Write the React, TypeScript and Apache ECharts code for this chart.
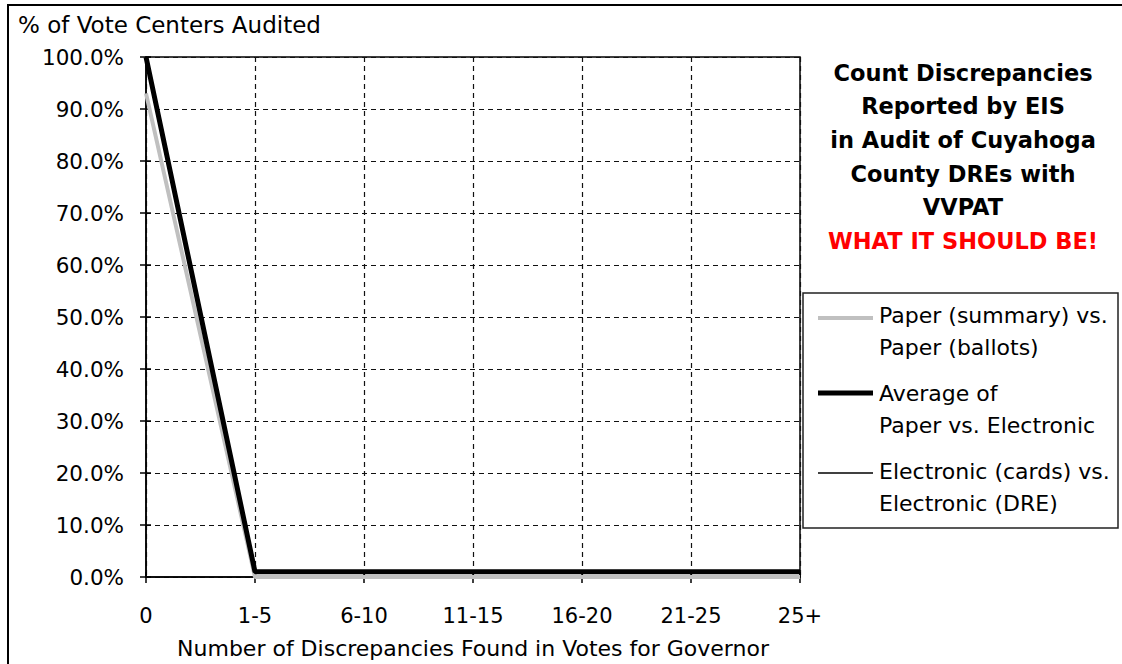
import React, { useEffect, useRef } from "react";
import * as echarts from "echarts";

const categories = ["0", "1-5", "6-10", "11-15", "16-20", "21-25", "25+"];
const paperVsPaper = [93, 0, 0, 0, 0, 0, 0];
const averagePaperVsElectronic = [100, 1, 1, 1, 1, 1, 1];
const electronicVsElectronic = [100, 1, 1, 1, 1, 1, 1];
const seriesNames = [
  "Paper (summary) vs.\nPaper (ballots)",
  "Average of\nPaper vs. Electronic",
  "Electronic (cards) vs.\nElectronic (DRE)",
];
const titleLines = [
  "Count Discrepancies",
  "Reported by EIS",
  "in Audit of Cuyahoga",
  "County DREs with",
  "VVPAT",
];
const titleRed = "WHAT IT SHOULD BE!";
const yAxisTitle = "% of Vote Centers Audited";
const xAxisTitle = "Number of Discrepancies Found in Votes for Governor";

const FONT = "DejaVu Sans";

export default function App() {
  const ref = useRef<HTMLDivElement>(null);
  useEffect(() => {
    if (!ref.current) return;
    const chart = echarts.init(ref.current, null, { renderer: "svg" });
    const styles = [
      { color: "#c0c0c0", width: 4 },
      { color: "#000000", width: 5 },
      { color: "#000000", width: 1.5 },
    ];
    const data = [paperVsPaper, averagePaperVsElectronic, electronicVsElectronic];
    const legendY = [318, 393, 473];
    const legendTextY = [299, 377, 455];
    const legendItems: any[] = [];
    seriesNames.forEach((n, i) => {
      legendItems.push({
        type: "line",
        shape: { x1: 818, y1: legendY[i], x2: 873, y2: legendY[i] },
        style: { stroke: styles[i].color, lineWidth: styles[i].width },
      });
      legendItems.push({
        type: "text",
        x: 879,
        y: legendTextY[i],
        style: {
          text: n,
          fontFamily: FONT,
          fontSize: 22,
          lineHeight: 32,
          fill: "#000",
          align: "left",
          verticalAlign: "top",
        },
      });
    });

    chart.setOption({
      animation: false,
      backgroundColor: "#fff",
      grid: {
        left: 146,
        right: 322,
        top: 57,
        bottom: 86,
        show: true,
        borderColor: "#000",
        borderWidth: 1.5,
        backgroundColor: "transparent",
      },
      xAxis: [
        {
          type: "category",
          data: categories,
          boundaryGap: false,
          name: xAxisTitle,
          nameLocation: "middle",
          nameGap: 60,
          nameTextStyle: { fontFamily: FONT, fontSize: 22, color: "#000" },
          axisLine: { lineStyle: { color: "#000", width: 1.5 } },
          axisTick: { show: true, length: 6, lineStyle: { color: "#000", width: 1.5 } },
          axisLabel: { fontFamily: FONT, fontSize: 21, color: "#000", margin: 28 },
          splitLine: { show: true, lineStyle: { color: "#111", type: [5, 4], width: 1.2 } },
        },
        {
          type: "category",
          data: categories,
          boundaryGap: false,
          position: "bottom",
          axisLine: { show: false },
          axisTick: { show: true, inside: true, length: 5, lineStyle: { color: "#000", width: 1.5 } },
          axisLabel: { show: false },
          splitLine: { show: false },
        },
      ],
      yAxis: [
        {
          type: "value",
          min: 0,
          max: 100,
          interval: 10,
          axisLine: { show: true, lineStyle: { color: "#000", width: 1.5 } },
          axisTick: { show: true, length: 6, lineStyle: { color: "#000", width: 1.5 } },
          axisLabel: {
            fontFamily: FONT,
            fontSize: 21.5,
            color: "#000",
            margin: 22,
            formatter: (v: number) => v.toFixed(1) + "%",
          },
          splitLine: { show: true, lineStyle: { color: "#111", type: [5, 4], width: 1.2 } },
        },
        {
          type: "value",
          min: 0,
          max: 100,
          interval: 10,
          position: "left",
          axisLine: { show: false },
          axisTick: { show: true, inside: true, length: 5, lineStyle: { color: "#000", width: 1.5 } },
          axisLabel: { show: false },
          splitLine: { show: false },
        },
      ],
      series: data.map((d, i) => ({
        type: "line",
        name: seriesNames[i],
        data: d,
        xAxisIndex: 0,
        yAxisIndex: 0,
        symbol: "none",
        lineStyle: { color: styles[i].color, width: styles[i].width },
        z: 2 + i,
      })),
      graphic: [
        {
          type: "rect",
          shape: { x: 8, y: 5, width: 1200, height: 800 },
          style: { fill: "none", stroke: "#000", lineWidth: 2 },
          silent: true,
        },
        {
          type: "text",
          x: 18,
          y: 25,
          style: {
            text: yAxisTitle,
            fontFamily: FONT,
            fontSize: 23,
            fill: "#000",
            align: "left",
            verticalAlign: "middle",
          },
        },
        {
          type: "text",
          x: 963,
          y: 56,
          style: {
            text: titleLines.join("\n"),
            fontFamily: FONT,
            fontSize: 22.5,
            fontWeight: "bold",
            lineHeight: 33.6,
            fill: "#000",
            align: "center",
            verticalAlign: "top",
          },
        },
        {
          type: "text",
          x: 963,
          y: 224,
          style: {
            text: titleRed,
            fontFamily: FONT,
            fontSize: 22.5,
            fontWeight: "bold",
            lineHeight: 33.6,
            fill: "#ff0000",
            align: "center",
            verticalAlign: "top",
          },
        },
        {
          type: "rect",
          shape: { x: 803, y: 293, width: 315, height: 235 },
          style: { fill: "#fff", stroke: "#222", lineWidth: 1.5 },
        },
        ...legendItems,
      ],
    });
    return () => chart.dispose();
  }, []);
  return (
    <div
      ref={ref}
      style={{ position: "absolute", left: 0, top: 0, width: 1122, height: 664 }}
    />
  );
}
